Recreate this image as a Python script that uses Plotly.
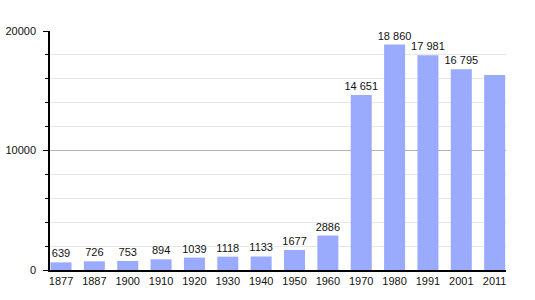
import plotly.graph_objects as go

years = ["1877", "1887", "1900", "1910", "1920", "1930", "1940", "1950", "1960", "1970", "1980", "1991", "2001", "2011"]
population = [639, 726, 753, 894, 1039, 1118, 1133, 1677, 2886, 14651, 18860, 17981, 16795, 16320]
labels = ["639", "726", "753", "894", "1039", "1118", "1133", "1677", "2886", "14 651", "18 860", "17 981", "16 795", ""]
y_ticks = [0, 10000, 20000]

font = "Liberation Sans, Arial, sans-serif"

fig = go.Figure(go.Bar(
    x=years, y=population, text=labels, textposition="outside",
    textfont=dict(family=font, size=11, color="#111111"),
    marker=dict(color="#9aabfd", line=dict(width=0)),
    width=0.63, cliponaxis=False,
))

fig.update_layout(
    width=535, height=300,
    margin=dict(l=50, r=29, t=31, b=30),
    plot_bgcolor="white", paper_bgcolor="white",
    showlegend=False,
    uniformtext=dict(minsize=11, mode="show"),
    font=dict(family=font, size=11, color="#111111"),
    xaxis=dict(
        type="category", range=[-0.33, 13.34],
        showline=True, linecolor="black", linewidth=1.5,
        ticks="", showgrid=False, automargin=False,
        tickfont=dict(family=font, size=11, color="#111111"),
    ),
    yaxis=dict(
        range=[0, 20000], tickvals=y_ticks, ticktext=[str(v) for v in y_ticks],
        showline=True, linecolor="black", linewidth=1.5,
        ticks="outside", ticklen=5, tickcolor="black",
        ticklabelstandoff=5, automargin=False,
        showgrid=True, gridcolor="#b4b4b4", gridwidth=1,
        zeroline=False,
        minor=dict(dtick=2000, ticks="outside", ticklen=3, tickcolor="black",
                   showgrid=True, gridcolor="#e8e8e8", gridwidth=1),
        tickfont=dict(family=font, size=11, color="#111111"),
    ),
    bargap=0.37,
)

fig.write_html("out.html")
